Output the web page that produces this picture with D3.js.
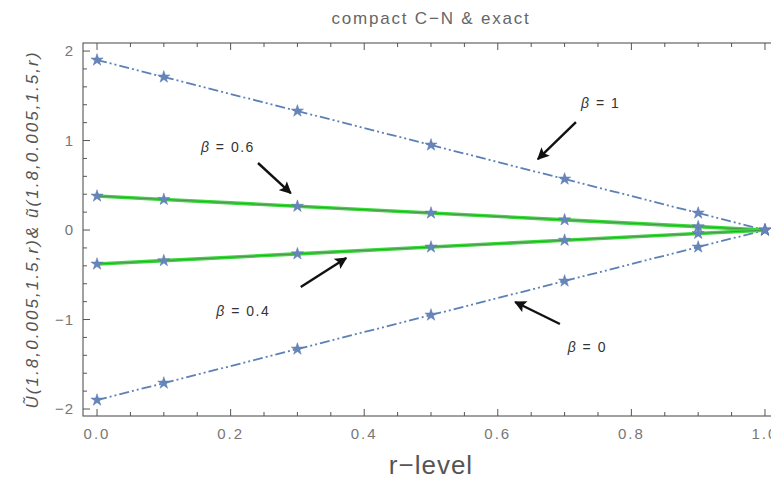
<!DOCTYPE html>
<html><head><meta charset="utf-8">
<script src="https://cdn.jsdelivr.net/npm/d3@7"></script>
<style>body{margin:0;background:#fff;} text{font-family:"Liberation Sans",Arial,sans-serif;}</style>
</head><body>
<svg id="c" width="771" height="481"></svg>
<script>
const rLevels = [0, 0.1, 0.3, 0.5, 0.7, 0.9, 1.0];
const beta1 = [1.90, 1.71, 1.33, 0.95, 0.57, 0.19, 0];
const beta06 = [0.38, 0.342, 0.266, 0.19, 0.114, 0.038, 0];
const beta04 = [-0.38, -0.342, -0.266, -0.19, -0.114, -0.038, 0];
const beta0 = [-1.90, -1.71, -1.33, -0.95, -0.57, -0.19, 0];
const xTicks = [0, 0.2, 0.4, 0.6, 0.8, 1.0];
const xTickLabels = ["0.0", "0.2", "0.4", "0.6", "0.8", "1.0"];
const yTicks = [-2, -1, 0, 1, 2];
const yTickLabels = ["\u22122", "\u22121", "0", "1", "2"];
const annLabels = ["\u03b2 = 1", "\u03b2 = 0.6", "\u03b2 = 0.4", "\u03b2 = 0"];
const annLabelPos = [[0.754, 1.419], [0.196, 0.927], [0.219, -0.905], [0.734, -1.307]];
const annArrowTail = [[0.717, 1.207], [0.241, 0.749], [0.305, -0.637], [0.693, -1.050]];
const annArrowTip = [[0.660, 0.793], [0.290, 0.413], [0.373, -0.313], [0.626, -0.804]];

const svg = d3.select("#c");
const L = 83, R = 779, T = 43, B = 416;
const x = d3.scaleLinear().domain([-0.021, 1.021]).range([L, R]);
const y = d3.scaleLinear().domain([-2.078, 2.09]).range([B, T]);

const frameColor = "#555";
// frame
svg.append("rect").attr("x", L).attr("y", T).attr("width", R - L).attr("height", B - T)
  .attr("fill", "none").attr("stroke", frameColor).attr("stroke-width", 1.1);

// ticks
const xMinor = d3.range(0, 1.0001, 0.05);
const yMinor = d3.range(-2, 2.0001, 0.2);
function isMajor(v, arr){ return arr.some(a => Math.abs(a - v) < 1e-6); }
const tg = svg.append("g").attr("stroke", frameColor).attr("stroke-width", 1);
xMinor.forEach(v => {
  const len = isMajor(v, xTicks) ? 7 : 4;
  tg.append("line").attr("x1", x(v)).attr("x2", x(v)).attr("y1", B).attr("y2", B - len);
  tg.append("line").attr("x1", x(v)).attr("x2", x(v)).attr("y1", T).attr("y2", T + len);
});
yMinor.forEach(v => {
  const len = isMajor(v, yTicks) ? 7 : 4;
  tg.append("line").attr("x1", L).attr("x2", L + len).attr("y1", y(v)).attr("y2", y(v));
  tg.append("line").attr("x1", R).attr("x2", R - len).attr("y1", y(v)).attr("y2", y(v));
});

// tick labels
svg.append("g").selectAll("text").data(xTicks).join("text")
  .attr("x", d => x(d)).attr("y", 439).attr("text-anchor", "middle")
  .attr("font-size", 15).attr("letter-spacing", 2).attr("fill", "#777")
  .text((d, i) => xTickLabels[i]);
svg.append("g").selectAll("text").data(yTicks).join("text")
  .attr("x", 74).attr("y", d => y(d) + 5).attr("text-anchor", "end")
  .attr("font-size", 15).attr("letter-spacing", 1).attr("fill", "#777")
  .text((d, i) => yTickLabels[i]);

// titles
svg.append("text").attr("x", (L + R) / 2).attr("y", 24).attr("text-anchor", "middle")
  .attr("font-size", 17).attr("letter-spacing", 1.8).attr("fill", "#666")
  .text("compact C\u2212N & exact");
svg.append("text").attr("x", (L + R) / 2).attr("y", 474).attr("text-anchor", "middle")
  .attr("font-size", 26).attr("letter-spacing", 1).attr("fill", "#555")
  .text("r\u2212level");
svg.append("text").attr("transform", "translate(38," + ((T + B) / 2 + 1) + ") rotate(-90)")
  .attr("text-anchor", "middle").attr("font-size", 17).attr("font-style", "italic")
  .attr("fill", "#555").attr("textLength", 356).attr("lengthAdjust", "spacing")
  .text("\u0168(1.8,0.005,1.5,r)& \u0169(1.8,0.005,1.5,r)");

// lines
const pts = vals => rLevels.map((r, i) => [r, vals[i]]);
const line = d3.line().x(d => x(d[0])).y(d => y(d[1]));
const blue = "#5e81b5";
[beta1, beta0].forEach(v => {
  svg.append("path").attr("d", line(pts(v))).attr("fill", "none")
    .attr("stroke", blue).attr("stroke-width", 1.8).attr("stroke-dasharray", "10,3,2,3,2,3");
});
[beta06, beta04].forEach(v => {
  svg.append("path").attr("d", line(pts(v))).attr("fill", "none")
    .attr("stroke", "#3ad83a").attr("stroke-width", 3.6);
  svg.append("path").attr("d", line(pts(v))).attr("fill", "none")
    .attr("stroke", "#4a7a52").attr("stroke-width", 0.9).attr("opacity", 0.8);
});

// stars
const star = d3.symbol().type(d3.symbolStar).size(46);
[beta1, beta06, beta04, beta0].forEach(v => {
  svg.append("g").selectAll("path").data(pts(v)).join("path")
    .attr("d", star).attr("transform", d => `translate(${x(d[0])},${y(d[1])})`)
    .attr("fill", "#6685bd").attr("stroke", "#5a78aa").attr("stroke-width", 0.5);
});

// annotations
const defs = svg.append("defs");
defs.append("marker").attr("id", "ah").attr("viewBox", "0 0 10 10").attr("refX", 9).attr("refY", 5)
  .attr("markerWidth", 5.5).attr("markerHeight", 5).attr("markerUnits", "strokeWidth").attr("orient", "auto")
  .append("path").attr("d", "M0,0 L10,5 L0,10 L2,5 Z").attr("fill", "#111");
annLabels.forEach((lab, i) => {
  svg.append("line").attr("x1", x(annArrowTail[i][0])).attr("y1", y(annArrowTail[i][1]))
    .attr("x2", x(annArrowTip[i][0])).attr("y2", y(annArrowTip[i][1]))
    .attr("stroke", "#111").attr("stroke-width", 2.4).attr("marker-end", "url(#ah)");
  const t = svg.append("text").attr("x", x(annLabelPos[i][0])).attr("y", y(annLabelPos[i][1]) + 5)
    .attr("text-anchor", "middle").attr("font-size", 14).attr("letter-spacing", 1.5).attr("fill", "#333");
  t.append("tspan").attr("font-style", "italic").text(lab.slice(0, 1));
  t.append("tspan").text(lab.slice(1));
});
</script>
</body></html>
